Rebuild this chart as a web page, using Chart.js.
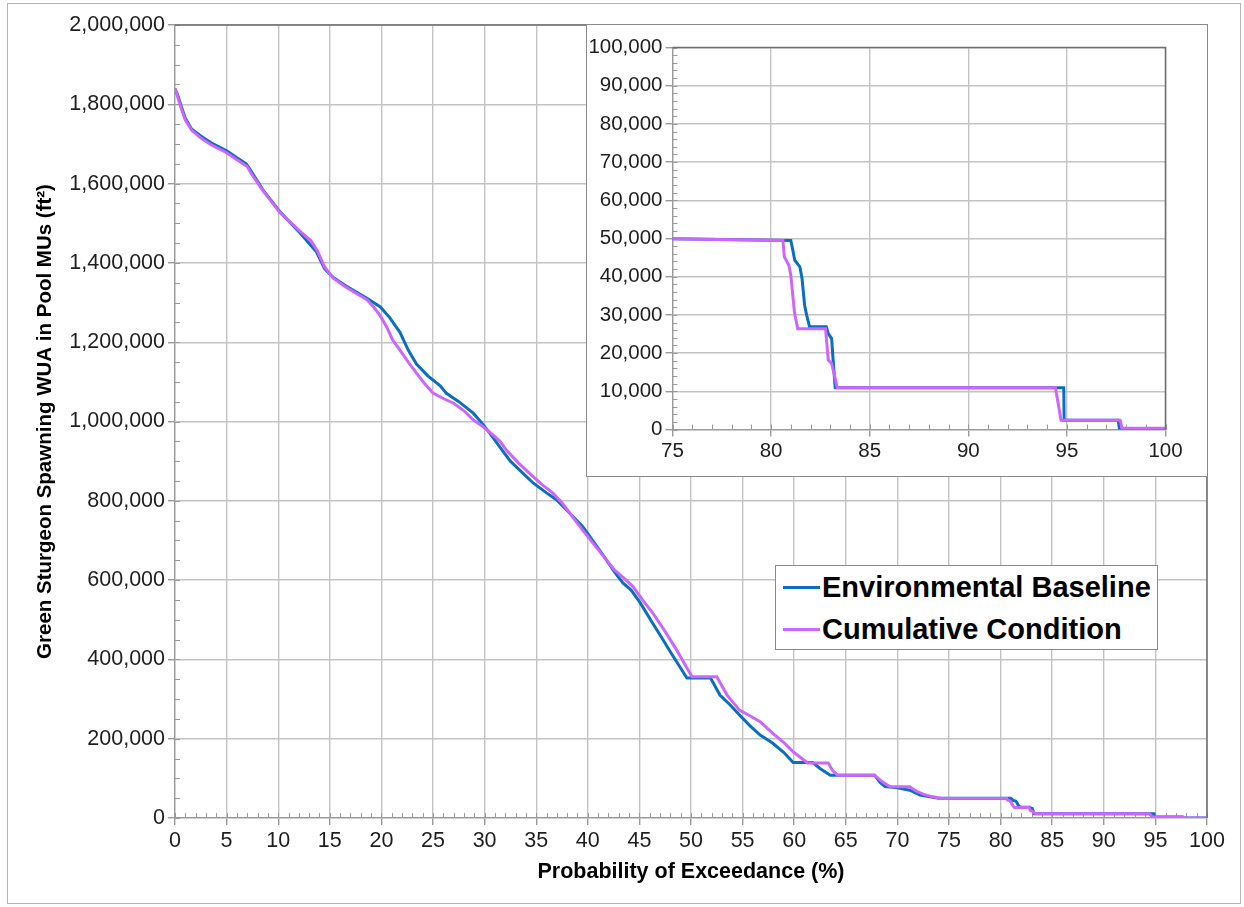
<!DOCTYPE html>
<html>
<head>
<meta charset="utf-8">
<script src="https://cdn.jsdelivr.net/npm/chart.js@4.4.1/dist/chart.umd.min.js"></script>
<style>
  html, body { margin: 0; padding: 0; background: #fff; }
  body { width: 1244px; height: 907px; position: relative; overflow: hidden; font-family: "Liberation Sans", Arial, sans-serif; }
  #frame { position: absolute; left: 7px; top: 3px; width: 1234px; height: 901px; border: 1px solid #b4b4b4; box-sizing: border-box; }
  #mainChart { position: absolute; left: 0; top: 0; }
  #insetBox { position: absolute; left: 586px; top: 24px; width: 622px; height: 453px; background: #fff; border: 1.5px solid #8a8a8a; box-sizing: border-box; }
  #insetChart { position: absolute; left: -1.5px; top: -1.5px; }
  #legend { position: absolute; left: 775px; top: 565px; width: 383px; height: 85px; background: #fff; border: 1.5px solid #8a8a8a; box-sizing: border-box; }
  .item { position: absolute; left: 0; height: 34px; font-weight: bold; font-size: 29px; color: #000; white-space: nowrap; }
  .item .swatch { position: absolute; left: 7px; top: 16px; width: 37px; height: 3px; }
  .item .label { position: absolute; left: 46px; top: 0; line-height: 34px; }
</style>
</head>
<body>
<div id="frame"></div>
<canvas id="mainChart" width="1244" height="907"></canvas>
<div id="insetBox"><canvas id="insetChart" width="622" height="453"></canvas></div>
<div id="legend"></div>
<script>
  // Environmental Baseline (probability of exceedance %, WUA ft2)
  const baseX = [0, 0.3, 0.6, 1, 1.6, 2.5, 3.5, 5, 6, 6.9, 7.3, 8.5, 10.2, 12.1, 13.7, 14.5, 15.3, 16.5, 18.6, 19.9,
    20.8, 21.8, 22.6, 23.4, 24.5, 25.7, 26.3, 27.5, 28.9, 29.6, 30.5, 31.5, 32.5, 33.5, 34.7, 36, 37, 38.2, 39.5, 40.6,
    41.8, 42.6, 43.4, 44.2, 45.1, 46.2, 47.3, 48.1, 48.9, 49.6, 51.9, 52.8, 53.8, 54.7, 55.7, 56.7, 57.9, 59, 59.9, 61.8,
    62.5, 63.5, 67.8, 68.3, 68.8, 70, 71.2, 72.2, 73, 74, 81.0, 81.1, 81.2, 81.46, 81.57, 81.7, 81.8, 81.95, 82.8, 82.9,
    83.07, 83.14, 83.25, 94.84, 94.86, 97.6, 97.67, 100];
  const baseY = [1840000, 1820000, 1795000, 1765000, 1738000, 1720000, 1703000, 1683000, 1665000, 1650000, 1635000, 1585000, 1528000, 1476000, 1428000, 1385000, 1364000, 1343000, 1311000, 1289000,
    1262000, 1225000, 1180000, 1145000, 1115000, 1090000, 1071000, 1050000, 1021000, 1000000, 971000, 935000, 900000, 875000, 845000, 820000, 802000, 770000, 735000, 695000,
    651000, 620000, 593000, 575000, 542000, 495000, 449000, 415000, 382000, 353000, 353000, 310000, 285000, 260000, 233000, 209000, 189000, 165000, 140000, 140000,
    125000, 108000, 108000, 90000, 79000, 76000, 70000, 58000, 54000, 50000, 49500, 47000, 44300, 42600, 39500, 32500, 30000, 26900, 26900, 25100,
    23800, 18600, 10900, 10900, 2400, 2400, 0, 0];

  // Cumulative Condition
  const cumX = [0, 0.3, 0.6, 1, 1.6, 2.5, 3.5, 5, 6, 7, 7.4, 8.5, 10.2, 12.1, 13.2, 13.8, 14.5, 15.3, 16.5, 18.6,
    19.2, 19.8, 20.5, 21.1, 21.8, 22.6, 23.4, 24.2, 25, 26, 27, 28, 28.9, 29.7, 30.5, 31.5, 32.1, 33.3, 34.7, 35.6,
    36.6, 37.5, 38.5, 39.5, 40.6, 41.8, 42.6, 43.5, 44.4, 45.3, 46.3, 47.5, 48.6, 49.4, 50.1, 52.5, 53.5, 54.7, 55.7, 56.7,
    57.9, 59, 59.9, 61.3, 63.3, 63.7, 64.2, 67.8, 68.5, 69.3, 71.2, 71.8, 72.5, 73.3, 74.2, 80.6, 80.67, 80.9, 81.0, 81.19,
    81.35, 82.76, 82.9, 83.07, 83.36, 94.42, 94.5, 94.7, 97.7, 97.8, 100];
  const cumY = [1840000, 1815000, 1790000, 1760000, 1735000, 1715000, 1698000, 1678000, 1660000, 1643000, 1625000, 1583000, 1526000, 1480000, 1455000, 1430000, 1390000, 1362000, 1340000, 1307000,
    1290000, 1270000, 1239000, 1205000, 1180000, 1150000, 1122000, 1095000, 1072000, 1058000, 1046000, 1027000, 1004000, 990000, 973000, 950000, 928000, 895000, 861000, 840000,
    820000, 795000, 760000, 726000, 690000, 651000, 625000, 605000, 583000, 550000, 517000, 470000, 424000, 388000, 356000, 356000, 310000, 272000, 258000, 243000,
    214000, 190000, 167000, 139000, 139000, 120000, 108000, 108000, 92000, 79000, 79000, 68000, 60000, 54000, 50000, 49500, 45200, 43000, 40400, 30400,
    26400, 26400, 18200, 17300, 10900, 10900, 8600, 2400, 2400, 300, 300];

  const seriesNames = ['Environmental Baseline', 'Cumulative Condition'];
  const seriesColors = ['#0a6fbd', '#cc66ff'];

  const mainXTicks = { min: 0, max: 100, step: 5, minor: 1 };
  const mainYTicks = { min: 0, max: 2000000, step: 200000, minor: 50000 };
  const insetXTicks = { min: 75, max: 100, step: 5, minor: 1 };
  const insetYTicks = { min: 0, max: 100000, step: 10000, minor: 2000 };

  const FONT = '"Liberation Sans", Arial, sans-serif';
  const toPts = (xs, ys) => xs.map((x, i) => ({ x: x, y: ys[i] }));
  const fmt = v => Number(v).toLocaleString('en-US');

  // minor tick marks drawn inward, plus the dark top/right plot border
  const plotDecor = {
    id: 'plotDecor',
    beforeDatasetsDraw(chart, args, opts) {
      const { ctx, chartArea: a, scales: { x, y } } = chart;
      ctx.save();
      ctx.strokeStyle = '#9a9a9a';
      ctx.lineWidth = 1;
      ctx.beginPath();
      for (let v = x.min; v <= x.max + 1e-9; v += opts.xMinor) {
        const px = Math.round(x.getPixelForValue(v)) + 0.5;
        ctx.moveTo(px, a.bottom);
        ctx.lineTo(px, a.bottom - 5);
      }
      for (let v = y.min; v <= y.max + 1e-9; v += opts.yMinor) {
        const py = Math.round(y.getPixelForValue(v)) + 0.5;
        ctx.moveTo(a.left, py);
        ctx.lineTo(a.left + 5, py);
      }
      ctx.stroke();
      ctx.restore();
    },
    afterDraw(chart) {
      const { ctx, chartArea: a } = chart;
      ctx.save();
      ctx.strokeStyle = '#6e6e6e';
      ctx.lineWidth = 1.5;
      ctx.beginPath();
      ctx.moveTo(a.left, a.top);
      ctx.lineTo(a.right, a.top);
      ctx.lineTo(a.right, a.bottom);
      ctx.stroke();
      ctx.restore();
    }
  };

  function datasets() {
    return [
      { label: seriesNames[0], data: toPts(baseX, baseY), borderColor: seriesColors[0], borderWidth: 3, pointRadius: 0, tension: 0, order: 2 },
      { label: seriesNames[1], data: toPts(cumX, cumY), borderColor: seriesColors[1], borderWidth: 3, pointRadius: 0, tension: 0, order: 1 }
    ];
  }

  function axis(t, size, extra) {
    return Object.assign({
      type: 'linear', min: t.min, max: t.max,
      ticks: { stepSize: t.step, autoSkip: false, maxRotation: 0, color: '#1e1e1e', font: { family: FONT, size: size }, callback: fmt },
      grid: { color: '#c3c3c3', lineWidth: 1.4, tickLength: 7, tickColor: '#9a9a9a' },
      border: { color: '#9a9a9a', width: 1.3 }
    }, extra);
  }

  new Chart(document.getElementById('mainChart'), {
    type: 'line',
    data: { datasets: datasets() },
    plugins: [plotDecor],
    options: {
      responsive: false, animation: false, events: [],
      layout: { padding: { left: 0, top: 25, right: 37, bottom: 0 } },
      plugins: { legend: { display: false }, tooltip: { enabled: false }, plotDecor: { xMinor: mainXTicks.minor, yMinor: mainYTicks.minor } },
      scales: {
        x: axis(mainXTicks, 21.5, {
          title: { display: true, text: 'Probability of Exceedance (%)', color: '#000', font: { family: FONT, size: 21.5, weight: 'bold' }, padding: { bottom: 22 } },
          afterFit(s) { s.height = 89; }
        }),
        y: axis(mainYTicks, 21.5, {
          title: { display: true, text: 'Green Sturgeon Spawning WUA in Pool MUs (ft\u00B2)', color: '#000', font: { family: FONT, size: 20.5, weight: 'bold' }, padding: { top: 33 } },
          afterFit(s) { s.width = 175; }
        })
      }
    }
  });

  new Chart(document.getElementById('insetChart'), {
    type: 'line',
    data: { datasets: datasets() },
    plugins: [plotDecor],
    options: {
      responsive: false, animation: false, events: [],
      layout: { padding: { left: 0, top: 23.5, right: 42.5, bottom: 0 } },
      plugins: { legend: { display: false }, tooltip: { enabled: false }, plotDecor: { xMinor: insetXTicks.minor, yMinor: insetYTicks.minor } },
      scales: {
        x: axis(insetXTicks, 20.5, { afterFit(s) { s.height = 47.5; } }),
        y: axis(insetYTicks, 20.5, { afterFit(s) { s.width = 86.5; } })
      }
    }
  });

  // legend
  const legend = document.getElementById('legend');
  seriesNames.forEach((name, i) => {
    const row = document.createElement('div');
    row.className = 'item';
    row.style.top = (4 + i * 42) + 'px';
    row.innerHTML = '<div class="swatch" style="background:' + seriesColors[i] + '"></div><div class="label">' + name + '</div>';
    legend.appendChild(row);
  });
</script>
</body>
</html>
